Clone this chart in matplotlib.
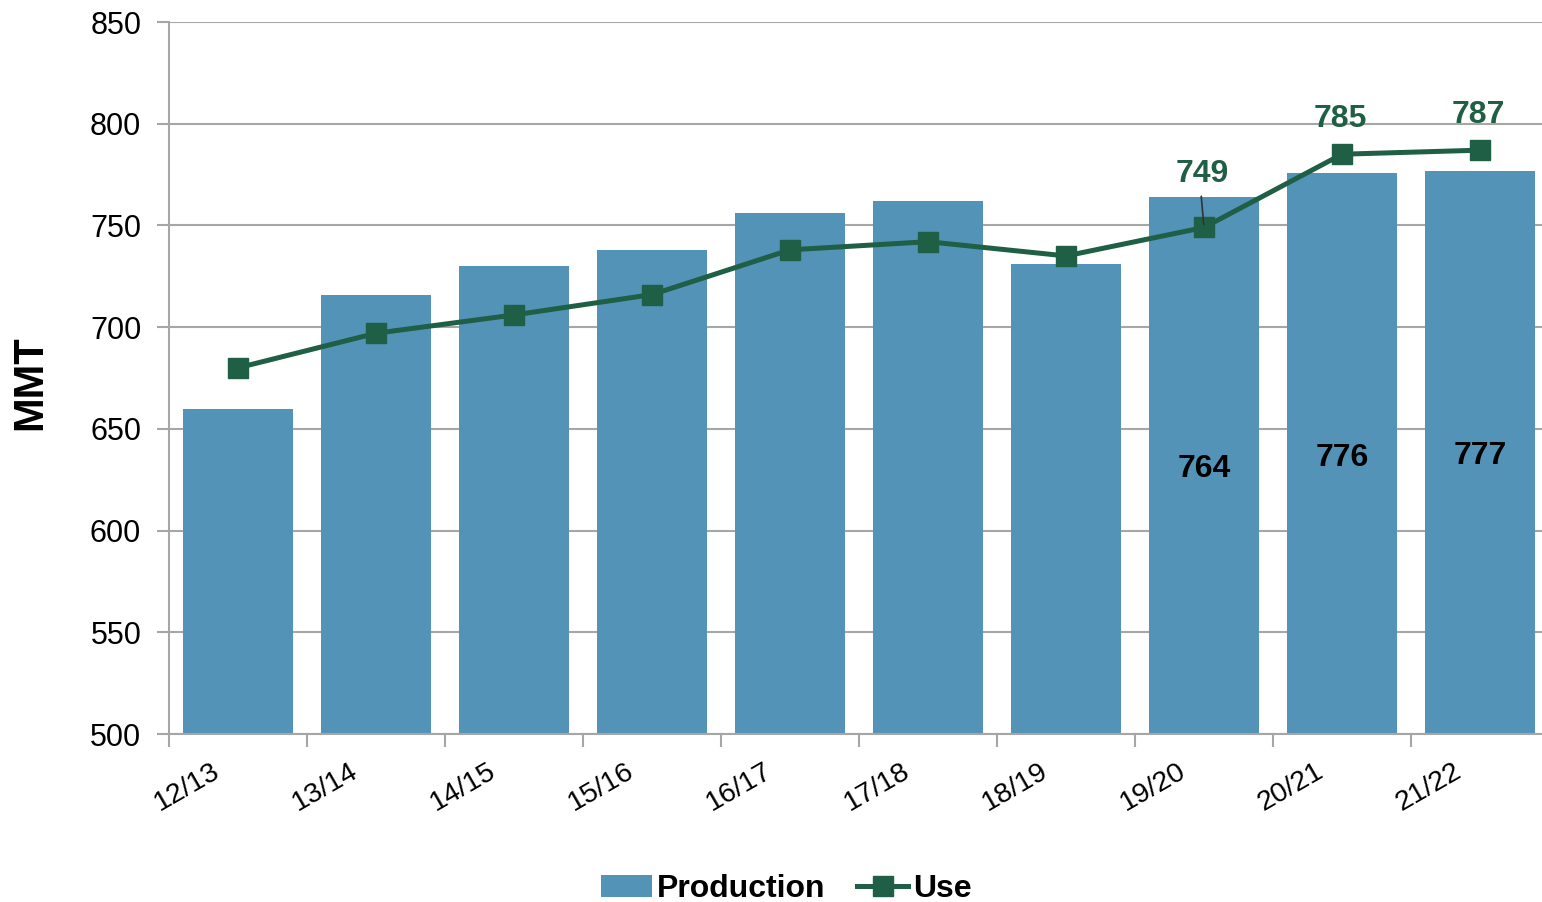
import numpy as np
import matplotlib.pyplot as plt
from matplotlib.ticker import FixedLocator

# --- Data ---
seasons = ['12/13', '13/14', '14/15', '15/16', '16/17', '17/18', '18/19', '19/20', '20/21', '21/22']
production = [660, 716, 730, 738, 756, 762, 731, 764, 776, 777]
use = [680, 697, 706, 716, 738, 742, 735, 749, 785, 787]

# labelled points (index into seasons)
prod_labelled = [7, 8, 9]
use_labelled = [7, 8, 9]

BAR_COLOR = '#5393b8'
LINE_COLOR = '#1f5f45'
GRID_COLOR = '#a6a6a6'

plt.rcParams['font.family'] = ['Liberation Sans', 'DejaVu Sans']

fig = plt.figure(figsize=(15.42, 9.02), dpi=100, facecolor='white')
# axes runs a little past the right edge of the figure, as in the original
ax = fig.add_axes([169 / 1542, 1 - 734 / 902, (1549 - 169) / 1542, (734 - 22) / 902])

x = np.arange(len(seasons))
bars = ax.bar(x, production, width=0.8, color=BAR_COLOR, zorder=2, label='Production')
line, = ax.plot(x, use, color=LINE_COLOR, lw=3.6, marker='s', ms=14, zorder=3, label='Use')

ax.set_xlim(-0.5, len(seasons) - 0.5)
ax.set_ylim(500, 850)
ax.set_yticks(np.arange(500, 851, 50))
ax.grid(axis='y', color=GRID_COLOR, lw=1.5, zorder=0)

for s in ['top', 'right']:
    ax.spines[s].set_visible(False)
for s in ['left', 'bottom']:
    ax.spines[s].set_color(GRID_COLOR)
    ax.spines[s].set_linewidth(1.5)

ax.tick_params(axis='y', length=9, width=1.5, color=GRID_COLOR, pad=11, labelsize=22)

# x: tick marks at category boundaries, rotated labels drawn by hand
ax.set_xticks(x)
ax.set_xticklabels([])
ax.tick_params(axis='x', which='major', length=0)
ax.xaxis.set_minor_locator(FixedLocator(np.arange(-0.5, len(seasons) - 0.5, 1)))
ax.tick_params(axis='x', which='minor', length=9, width=1.5, color=GRID_COLOR)
for xi, lab in zip(x, seasons):
    ax.annotate(lab, (xi, 0), xycoords=('data', 'axes fraction'), xytext=(-14, -24),
                textcoords='offset pixels', rotation=30, ha='right', va='top',
                fontsize=20.5, color='black')

ax.set_ylabel('MMT', fontsize=30, fontweight='bold')
ax.yaxis.set_label_coords((50 - 169) / 1380, (734 - 383) / 712)

# production labels inside bars
prod_offsets = [-272, -285, -285]
for i, off in zip(prod_labelled, prod_offsets):
    ax.annotate(str(production[i]), (x[i], production[i]), xytext=(0, off),
                textcoords='offset pixels', ha='center', va='center',
                fontsize=23, fontweight='bold', color='black', zorder=4)

# use labels above markers
use_offsets = [53, 35, 35]
for i, off in zip(use_labelled, use_offsets):
    ax.annotate(str(use[i]), (x[i], use[i]), xytext=(-2, off),
                textcoords='offset pixels', ha='center', va='center',
                fontsize=23, fontweight='bold', color=LINE_COLOR, zorder=4)
# leader line for 749
ax.annotate('', (x[7], use[7]), xytext=(-3, 34), textcoords='offset pixels',
            arrowprops=dict(arrowstyle='-', color='#333333', lw=1.2), zorder=4)

fig.legend(handles=[bars, line], loc='center', bbox_to_anchor=(0.51, 1 - 889 / 902),
           ncol=2, frameon=False, prop={'size': 23, 'weight': 'bold'},
           handlelength=1.6, handletextpad=0.15, columnspacing=1.0)

fig.savefig('out.png', dpi=100)
